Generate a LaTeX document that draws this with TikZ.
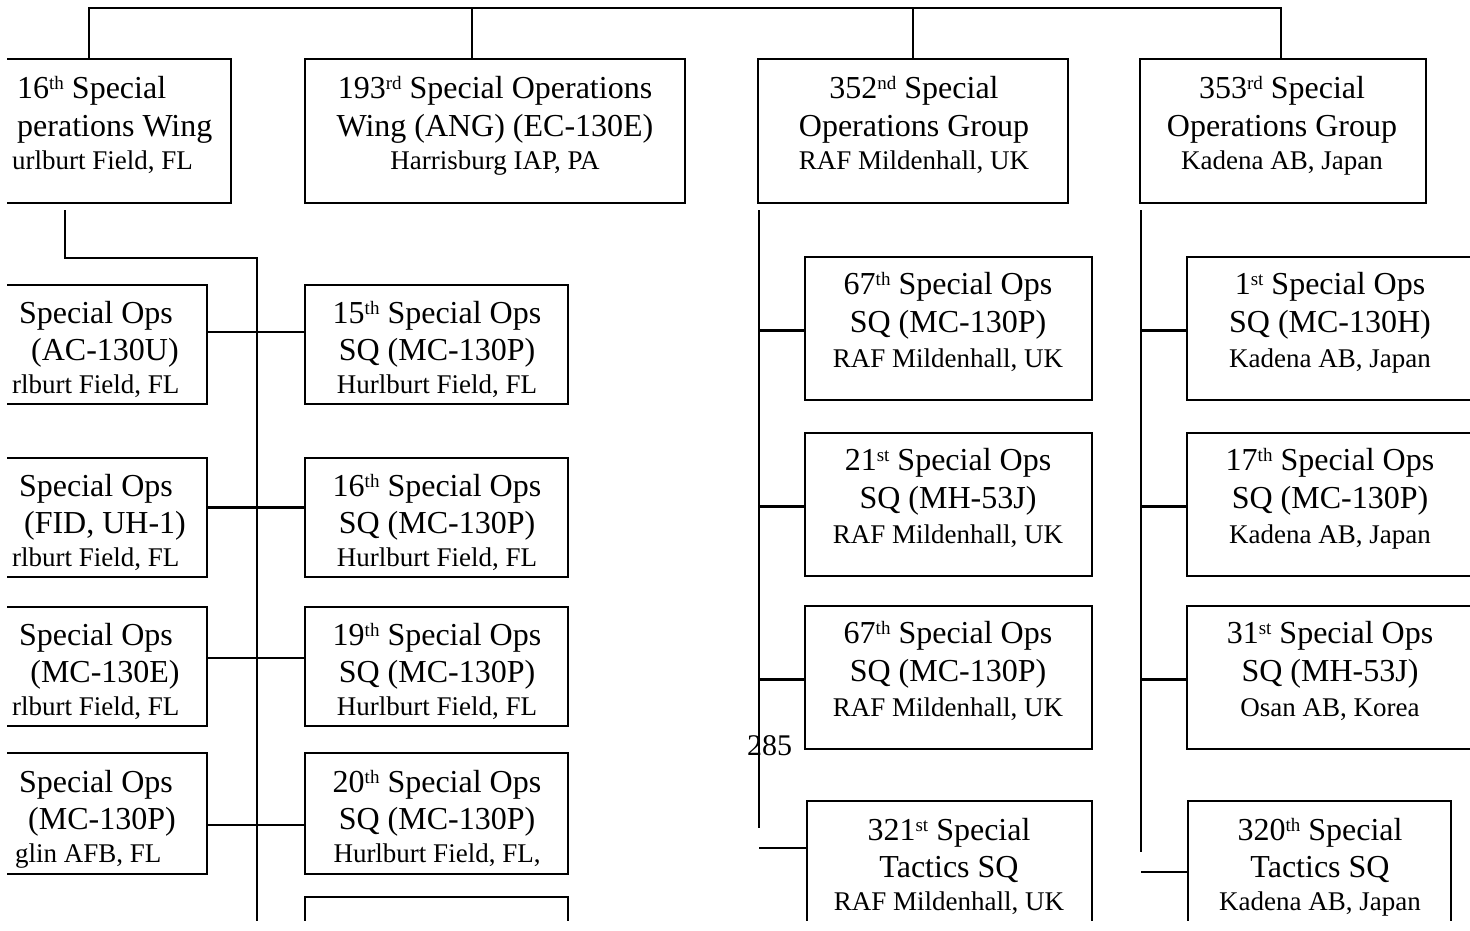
\documentclass[tikz,border=0pt]{standalone}
\usepackage{fontspec}
\setmainfont{Liberation Serif}
\newcommand\sups[1]{\raisebox{9pt}{\fontsize{19}{19}\selectfont #1}}
\newcommand\threelines[8]{%
  \node[big] (#1a) at (#2,#3) {#6};
  \node[big] (#1b) at (#2,#4) {#7};
  \node[small] (#1c) at (#2,#5) {#8};}
\begin{document}
\begin{tikzpicture}[x=1pt,y=-1pt,
  wire/.style={line width=2.3pt},
  box/.style={draw, line width=2.3pt, inner sep=0pt, outer sep=0pt, anchor=north west},
  big/.style={inner sep=0pt, anchor=base, font=\fontsize{32}{34}\selectfont},
  small/.style={inner sep=0pt, anchor=base, font=\fontsize{27}{29}\selectfont},
  bigw/.style={big, anchor=base west},
  smallw/.style={small, anchor=base west}]
\useasboundingbox (0,0) rectangle (1470,930);
\begin{scope}
\clip (7,0) rectangle (1470,920);
% top level boxes
\node[box, minimum width=284, minimum height=144] (A) at (-53,59) {};
\node[box, minimum width=380, minimum height=144] (B) at (305,59) {};
\node[box, minimum width=310, minimum height=144] (C) at (758,59) {};
\node[box, minimum width=286, minimum height=144] (D) at (1140,59) {};
% left column (partial)
\node[box, minimum width=267, minimum height=119] (L1) at (-60,285) {};
\node[box, minimum width=267, minimum height=119] (L2) at (-60,458) {};
\node[box, minimum width=267, minimum height=119] (L3) at (-60,607) {};
\node[box, minimum width=267, minimum height=121] (L4) at (-60,753) {};
% middle column
\node[box, minimum width=263, minimum height=119] (M1) at (305,285) {};
\node[box, minimum width=263, minimum height=119] (M2) at (305,458) {};
\node[box, minimum width=263, minimum height=119] (M3) at (305,607) {};
\node[box, minimum width=263, minimum height=121] (M4) at (305,753) {};
\node[box, minimum width=263, minimum height=100] (M5) at (305,897) {};
% 352nd group
\node[box, minimum width=287, minimum height=143] (C1) at (805,257) {};
\node[box, minimum width=287, minimum height=143] (C2) at (805,433) {};
\node[box, minimum width=287, minimum height=143] (C3) at (805,606) {};
\node[box, minimum width=285, minimum height=150] (C4) at (807,801) {};
% 353rd group
\node[box, minimum width=360, minimum height=143] (D1) at (1187,257) {};
\node[box, minimum width=360, minimum height=143] (D2) at (1187,433) {};
\node[box, minimum width=360, minimum height=143] (D3) at (1187,606) {};
\node[box, minimum width=263, minimum height=150] (D4) at (1188,801) {};
% bus
\coordinate (bus) at (0,8);
\draw[wire] (A.north) -- (A.north |- bus) -- ([xshift=-2]D.north |- bus) -- ([xshift=-2]D.north);
\draw[wire] ([xshift=-23]B.north) -- ([xshift=-23]B.north |- bus);
\draw[wire] (C.north) -- (C.north |- bus);
% left spine
\coordinate (spL) at (257,258);
\coordinate (spLend) at (257,930);
\draw[wire] ([xshift=-24,yshift=-7]A.south) |- (spL) -- (spLend);
\draw[wire] ([yshift=12.5]L1.east) -- ([yshift=12.5]M1.west);
\draw[wire] ([yshift=10]L2.east) -- ([yshift=10]M2.west);
\draw[wire] ([yshift=8.5]L3.east) -- ([yshift=8.5]M3.west);
\draw[wire] ([yshift=-11.5]L4.east) -- ([yshift=-11.5]M4.west);
% 352nd spine
\coordinate (spC) at (759,210);
\coordinate (spCend) at (759,828);
\draw[wire] (spC) -- (spCend);
\draw[wire] ([yshift=-2]C1.west) -- ([yshift=-2]C1.west -| spC);
\draw[wire] ([yshift=-2]C2.west) -- ([yshift=-2]C2.west -| spC);
\draw[wire] ([yshift=-2]C3.west) -- ([yshift=-2]C3.west -| spC);
\coordinate (c4w) at ([yshift=-47]C4.north west);
\draw[wire] (c4w) -- (c4w -| spC);
% 353rd spine
\coordinate (spD) at (1141,210);
\coordinate (spDend) at (1141,852);
\draw[wire] (spD) -- (spDend);
\draw[wire] ([yshift=-2]D1.west) -- ([yshift=-2]D1.west -| spD);
\draw[wire] ([yshift=-2]D2.west) -- ([yshift=-2]D2.west -| spD);
\draw[wire] ([yshift=-2]D3.west) -- ([yshift=-2]D3.west -| spD);
\coordinate (d4w) at ([yshift=-71]D4.north west);
\draw[wire] (d4w) -- (d4w -| spD);
\end{scope}
% texts: top level
\node[bigw] (Aa) at (17,98) {16\sups{th} Special};
\node[bigw] (Ab) at (17,136) {perations Wing};
\node[smallw] (Ac) at (12,169) {urlburt Field, FL};
\threelines{B}{495}{98}{136}{169}{193\sups{rd} Special Operations}{Wing (ANG) (EC-130E)}{Harrisburg IAP, PA}
\threelines{C}{914}{98}{136}{169}{352\sups{nd} Special}{Operations Group}{RAF Mildenhall, UK}
\threelines{D}{1282}{98}{136}{169}{353\sups{rd} Special}{Operations Group}{Kadena AB, Japan}
% left column texts
\node[big] (L1a) at (96,323) {Special Ops};
\node[big] (L1b) at (105,360) {(AC-130U)};
\node[smallw] (L1c) at (12,393) {rlburt Field, FL};
\node[big] (L2a) at (96,496) {Special Ops};
\node[big] (L2b) at (105,533) {(FID, UH-1)};
\node[smallw] (L2c) at (12,566) {rlburt Field, FL};
\node[big] (L3a) at (96,645) {Special Ops};
\node[big] (L3b) at (105,682) {(MC-130E)};
\node[smallw] (L3c) at (12,715) {rlburt Field, FL};
\node[big] (L4a) at (96,792) {Special Ops};
\node[big] (L4b) at (102,829) {(MC-130P)};
\node[smallw] (L4c) at (15,862) {glin AFB, FL};
% middle column texts
\threelines{M1}{437}{323}{360}{393}{15\sups{th} Special Ops}{SQ (MC-130P)}{Hurlburt Field, FL}
\threelines{M2}{437}{496}{533}{566}{16\sups{th} Special Ops}{SQ (MC-130P)}{Hurlburt Field, FL}
\threelines{M3}{437}{645}{682}{715}{19\sups{th} Special Ops}{SQ (MC-130P)}{Hurlburt Field, FL}
\threelines{M4}{437}{792}{829}{862}{20\sups{th} Special Ops}{SQ (MC-130P)}{Hurlburt Field, FL,}
% 352nd texts
\threelines{C1}{948}{294}{332}{367}{67\sups{th} Special Ops}{SQ (MC-130P)}{RAF Mildenhall, UK}
\threelines{C2}{948}{470}{508}{543}{21\sups{st} Special Ops}{SQ (MH-53J)}{RAF Mildenhall, UK}
\threelines{C3}{948}{643}{681}{716}{67\sups{th} Special Ops}{SQ (MC-130P)}{RAF Mildenhall, UK}
\threelines{C4}{949}{840}{877}{910}{321\sups{st} Special}{Tactics SQ}{RAF Mildenhall, UK}
% 353rd texts
\threelines{D1}{1330}{294}{332}{367}{1\sups{st} Special Ops}{SQ (MC-130H)}{Kadena AB, Japan}
\threelines{D2}{1330}{470}{508}{543}{17\sups{th} Special Ops}{SQ (MC-130P)}{Kadena AB, Japan}
\threelines{D3}{1330}{643}{681}{716}{31\sups{st} Special Ops}{SQ (MH-53J)}{Osan AB, Korea}
\threelines{D4}{1320}{840}{877}{910}{320\sups{th} Special}{Tactics SQ}{Kadena AB, Japan}
% page number
\node[inner sep=0pt, anchor=base west, font=\fontsize{30}{30}\selectfont] (pg) at (747,755) {285};
\end{tikzpicture}
\end{document}
